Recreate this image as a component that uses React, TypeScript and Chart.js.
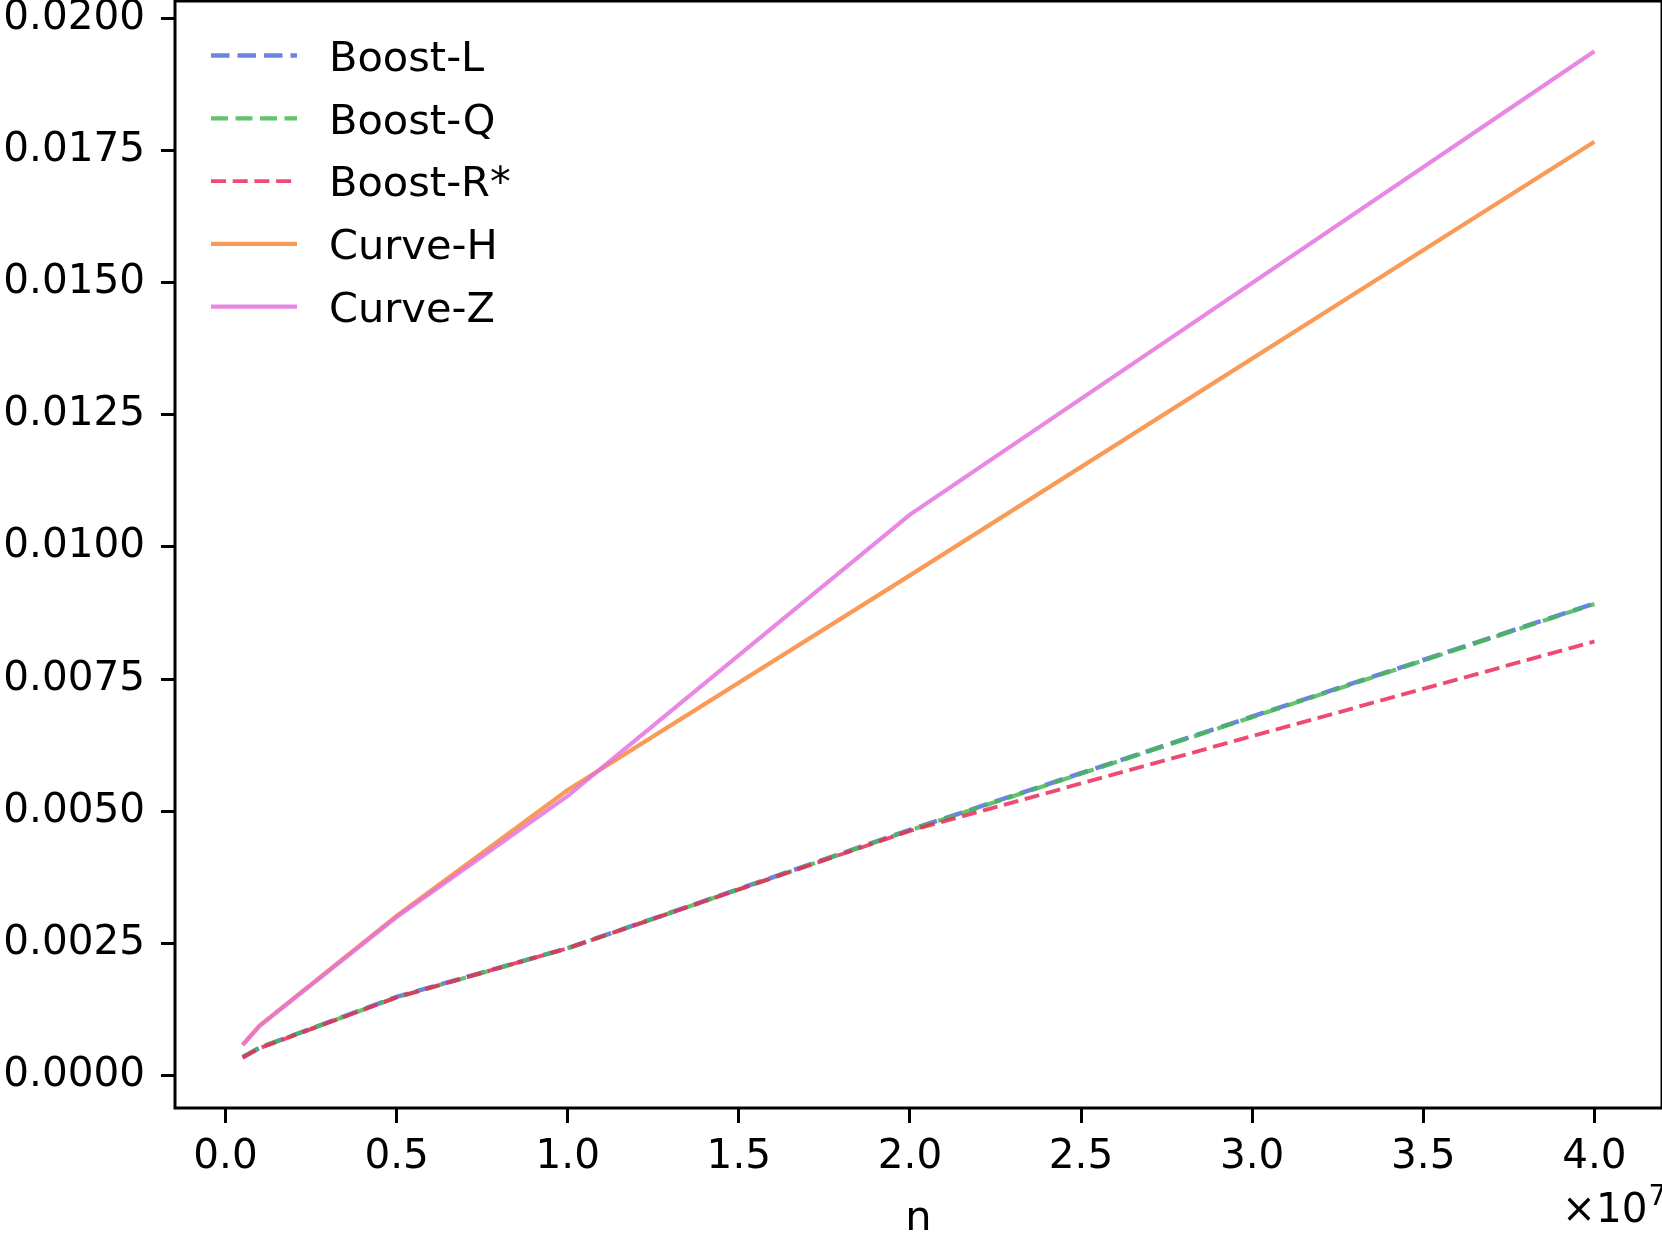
import { useEffect, useRef } from "react";
import { Chart, registerables } from "chart.js";

Chart.register(...registerables);

// problem size n
const nValues = [5e5, 1e6, 5e6, 1e7, 2e7, 4e7];

// runtime per series (seconds)
const boostL = [0.00035, 0.00053, 0.00149, 0.00241, 0.00465, 0.00893];
const boostQ = [0.00035, 0.00053, 0.00148, 0.00241, 0.00464, 0.00892];
const boostR = [0.00034, 0.00052, 0.00148, 0.00241, 0.00463, 0.00821];
const curveH = [0.00058, 0.00095, 0.00302, 0.0054, 0.00946, 0.01766];
const curveZ = [0.00058, 0.00094, 0.003, 0.00529, 0.01061, 0.01937];

const seriesLabels = ["Boost-L", "Boost-Q", "Boost-R*", "Curve-H", "Curve-Z"];

const xTicks = [0, 0.5e7, 1e7, 1.5e7, 2e7, 2.5e7, 3e7, 3.5e7, 4e7];
const xTickLabels = ["0.0", "0.5", "1.0", "1.5", "2.0", "2.5", "3.0", "3.5", "4.0"];
const yTicks = [0, 0.0025, 0.005, 0.0075, 0.01, 0.0125, 0.015, 0.0175, 0.02];
const yTickLabels = ["0.0000", "0.0025", "0.0050", "0.0075", "0.0100", "0.0125", "0.0150", "0.0175", "0.0200"];

const xAxisTitle = "n";
const xOffsetBase = "\u00d710";
const xOffsetExp = "7";

const FONT = "DejaVu Sans";
const FONT_SIZE = 40.5;

const W = 1662;
const H = 1238;

function withMargin(values: number[], frac = 0.05): [number, number] {
  const lo = Math.min(...values);
  const hi = Math.max(...values);
  const pad = (hi - lo) * frac;
  return [lo - pad, hi + pad];
}

const overlayPlugin = {
  id: "overlay",
  afterDraw(chart: any) {
    const { ctx, chartArea } = chart;
    const { left, right, top, bottom } = chartArea;
    ctx.save();

    // axes frame
    ctx.strokeStyle = "#000";
    ctx.lineWidth = 3;
    ctx.setLineDash([]);
    ctx.strokeRect(left, top, right - left, bottom - top);

    // legend
    const rowY0 = 55.5;
    const rowStep = 62.8;
    chart.data.datasets.forEach((ds: any, i: number) => {
      const y = rowY0 + i * rowStep;
      ctx.beginPath();
      ctx.strokeStyle = ds.borderColor;
      ctx.lineWidth = ds.borderWidth;
      ctx.setLineDash(ds.borderDash || []);
      ctx.lineCap = "butt";
      ctx.moveTo(211, y);
      ctx.lineTo(297, y);
      ctx.stroke();
      ctx.setLineDash([]);
      ctx.fillStyle = "#000";
      ctx.font = `${FONT_SIZE + 1}px "${FONT}"`;
      ctx.textAlign = "left";
      ctx.textBaseline = "alphabetic";
      ctx.fillText(ds.label, 329, y + 15.3);
    });

    // x axis title
    ctx.fillStyle = "#000";
    ctx.font = `${FONT_SIZE + 1}px "${FONT}"`;
    ctx.textAlign = "center";
    ctx.textBaseline = "alphabetic";
    ctx.fillText(xAxisTitle, (left + right) / 2, 1230);

    // offset multiplier for x axis
    ctx.font = `${FONT_SIZE}px "${FONT}"`;
    ctx.textAlign = "left";
    ctx.fillText(xOffsetBase, 1562, 1222);
    const baseW = ctx.measureText(xOffsetBase).width;
    ctx.font = `${FONT_SIZE * 0.7}px "${FONT}"`;
    ctx.fillText(xOffsetExp, 1562 + baseW + 1, 1205);

    ctx.restore();
  },
};

export default function App() {
  const canvasRef = useRef<HTMLCanvasElement | null>(null);

  useEffect(() => {
    const canvas = canvasRef.current;
    if (!canvas) return;

    const [xMin, xMax] = withMargin(nValues);
    const [yMin, yMax] = withMargin([...boostL, ...boostQ, ...boostR, ...curveH, ...curveZ]);

    const toPoints = (ys: number[]) => ys.map((y, i) => ({ x: nValues[i], y }));

    const styles = [
      { color: "rgba(81,110,219,0.85)", width: 4.5, dash: [18.5, 8] },
      { color: "rgba(71,186,83,0.85)", width: 4.2, dash: [17, 7.5] },
      { color: "rgba(236,42,89,0.85)", width: 3.9, dash: [15, 6.7] },
      { color: "rgba(248,137,57,0.85)", width: 4.2, dash: [] as number[] },
      { color: "rgba(228,115,222,0.85)", width: 4.2, dash: [] as number[] },
    ];
    const series = [boostL, boostQ, boostR, curveH, curveZ];

    const datasets = series.map((ys, i) => ({
      label: seriesLabels[i],
      data: toPoints(ys),
      borderColor: styles[i].color,
      backgroundColor: styles[i].color,
      borderWidth: styles[i].width,
      borderDash: styles[i].dash,
      pointRadius: 0,
      tension: 0,
      fill: false,
      order: series.length - i,
    }));

    const tickFont = { family: FONT, size: FONT_SIZE };

    const chart = new Chart(canvas, {
      type: "line",
      data: { datasets },
      plugins: [overlayPlugin],
      options: {
        animation: false,
        responsive: false,
        devicePixelRatio: 1,
        layout: { padding: { top: 1, right: 0, left: 0, bottom: 0 } },
        plugins: {
          legend: { display: false },
          tooltip: { enabled: false },
        },
        scales: {
          x: {
            type: "linear",
            min: xMin,
            max: xMax,
            border: { display: false },
            grid: {
              drawOnChartArea: false,
              drawTicks: true,
              tickLength: 15,
              tickWidth: 3,
              tickColor: "#000",
            },
            ticks: {
              color: "#000",
              font: tickFont,
              padding: 10,
              maxRotation: 0,
              autoSkip: false,
              callback: (v: any) => {
                const idx = xTicks.indexOf(Number(v));
                return idx >= 0 ? xTickLabels[idx] : "";
              },
            },
            afterBuildTicks: (axis: any) => {
              axis.ticks = xTicks.map((value) => ({ value }));
            },
            afterFit: (axis: any) => {
              axis.height = 130;
              axis.paddingLeft = 0;
              axis.paddingRight = 0;
            },
          },
          y: {
            type: "linear",
            min: yMin,
            max: yMax,
            border: { display: false },
            grid: {
              drawOnChartArea: false,
              drawTicks: true,
              tickLength: 14,
              tickWidth: 3,
              tickColor: "#000",
            },
            ticks: {
              color: "#000",
              font: tickFont,
              padding: 16,
              autoSkip: false,
              callback: (v: any) => {
                const idx = yTicks.findIndex((t) => Math.abs(t - Number(v)) < 1e-9);
                return idx >= 0 ? yTickLabels[idx] : "";
              },
            },
            afterBuildTicks: (axis: any) => {
              axis.ticks = yTicks.map((value) => ({ value }));
            },
            afterFit: (axis: any) => {
              axis.width = 175;
              axis.paddingTop = 0;
              axis.paddingBottom = 0;
            },
          },
        },
      },
    });

    return () => {
      chart.destroy();
    };
  }, []);

  return (
    <div style={{ position: "absolute", left: 0, top: 0, width: W, height: H, background: "#fff" }}>
      <canvas ref={canvasRef} width={W} height={H} style={{ width: W, height: H, display: "block" }} />
    </div>
  );
}
